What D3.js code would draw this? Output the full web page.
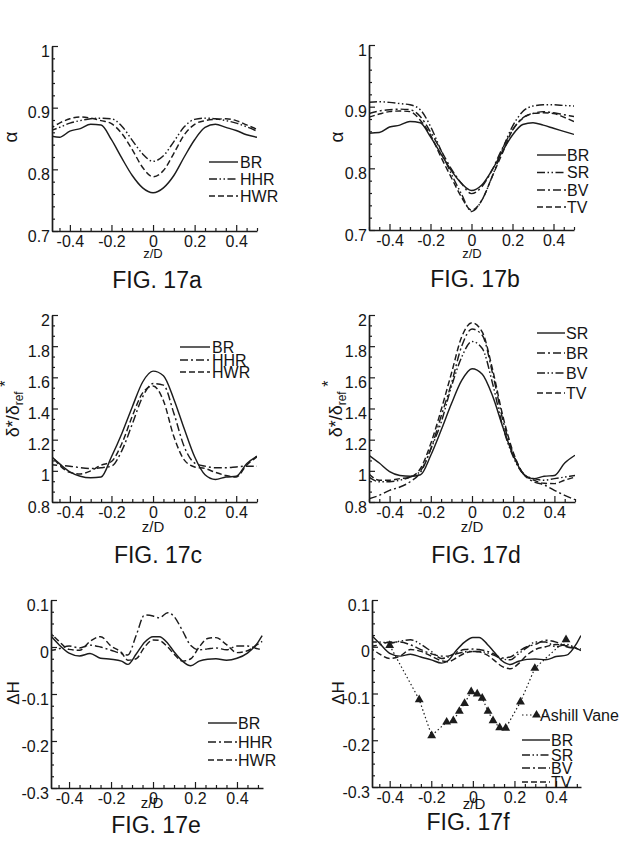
<!DOCTYPE html>
<html><head><meta charset="utf-8">
<script src="https://cdn.jsdelivr.net/npm/d3@7/dist/d3.min.js"></script>
<style>
body{margin:0;background:#fff}
svg{display:block}
text{font-family:"Liberation Sans",Arial,Helvetica,sans-serif;fill:#151515}
</style>
</head><body>
<svg id="chart" width="621" height="854"></svg>
<script>
// ---------- DATA ----------
const zGrid = [-0.5,-0.45,-0.4,-0.35,-0.3,-0.25,-0.2,-0.15,-0.1,-0.05,0,0.05,0.1,0.15,0.2,0.25,0.3,0.35,0.4,0.45,0.5];
const zGridEF = [-0.5,-0.45,-0.4,-0.35,-0.3,-0.25,-0.2,-0.15,-0.12,-0.08,-0.04,0,0.03,0.07,0.1,0.14,0.18,0.22,0.26,0.3,0.35,0.4,0.45,0.5,0.52];
const xTickLabels = [-0.4,-0.2,0,0.2,0.4];
const alphaTicks = [0.7,0.8,0.9,1];
const deltaTicks = [0.8,1,1.2,1.4,1.6,1.8,2];
const dHTicks = [-0.3,-0.2,-0.1,0,0.1];

// FIG 17a  (alpha)
const aBR  = [0.855,0.852,0.862,0.866,0.873,0.872,0.848,0.818,0.790,0.770,0.762,0.770,0.790,0.820,0.848,0.868,0.873,0.868,0.863,0.856,0.852];
const aHHR = [0.862,0.868,0.875,0.879,0.882,0.883,0.882,0.870,0.847,0.825,0.813,0.822,0.845,0.869,0.881,0.883,0.882,0.879,0.875,0.869,0.862];
const aHWR = [0.865,0.875,0.882,0.885,0.883,0.879,0.874,0.858,0.832,0.803,0.788,0.798,0.826,0.856,0.873,0.879,0.881,0.882,0.879,0.872,0.865];
// FIG 17b  (alpha)
const bBR = [0.857,0.858,0.867,0.870,0.876,0.874,0.851,0.824,0.797,0.776,0.764,0.773,0.797,0.827,0.854,0.871,0.874,0.870,0.865,0.860,0.855];
const bSR = [0.907,0.908,0.907,0.905,0.903,0.895,0.868,0.830,0.792,0.759,0.730,0.748,0.786,0.830,0.868,0.892,0.901,0.903,0.903,0.902,0.901];
const bBV = [0.889,0.893,0.895,0.896,0.895,0.884,0.859,0.830,0.800,0.776,0.759,0.770,0.797,0.832,0.862,0.882,0.889,0.892,0.890,0.887,0.884];
const bTV = [0.883,0.888,0.892,0.893,0.892,0.878,0.854,0.819,0.786,0.754,0.732,0.748,0.786,0.824,0.862,0.881,0.889,0.890,0.889,0.883,0.876];
// FIG 17c  (delta*/delta_ref*)
const cBR  = [1.107,1.046,0.993,0.965,0.955,0.960,1.090,1.240,1.410,1.570,1.640,1.610,1.460,1.270,1.090,0.975,0.945,0.960,0.965,1.046,1.094];
const cHHR = [1.040,1.035,1.030,1.020,1.015,1.020,1.030,1.130,1.300,1.475,1.560,1.550,1.370,1.155,1.050,1.030,1.020,1.020,1.025,1.030,1.030];
const cHWR = [1.120,1.036,0.990,0.980,1.000,1.036,1.060,1.175,1.350,1.500,1.545,1.450,1.220,1.070,1.025,1.015,0.990,0.970,0.960,1.036,1.090];
// FIG 17d
const dSR = [1.100,1.050,0.995,0.970,0.965,0.975,1.100,1.260,1.430,1.580,1.655,1.620,1.480,1.280,1.100,0.980,0.950,0.965,0.970,1.050,1.100];
const dBR = [0.820,0.843,0.875,0.896,0.930,0.990,1.140,1.350,1.560,1.800,1.910,1.870,1.625,1.325,1.110,0.980,0.930,0.910,0.875,0.843,0.815];
const dBV = [0.960,0.930,0.930,0.940,0.960,1.000,1.140,1.310,1.540,1.730,1.830,1.785,1.560,1.280,1.090,0.980,0.950,0.940,0.950,0.960,0.970];
const dTV = [0.980,0.940,0.940,0.950,0.960,1.015,1.175,1.390,1.625,1.860,1.950,1.890,1.650,1.350,1.120,0.980,0.940,0.920,0.918,0.940,0.960];
// FIG 17e  (delta H)
const eBR  = [0.030,0.006,-0.013,-0.019,-0.014,-0.024,-0.026,-0.030,-0.037,-0.015,0.010,0.022,0.022,0.008,-0.010,-0.030,-0.040,-0.030,-0.026,-0.025,-0.028,-0.024,-0.013,0.010,0.024];
const eHHR = [-0.008,-0.004,0.002,-0.002,0.004,0.000,-0.007,-0.014,-0.017,0.025,0.068,0.066,0.062,0.073,0.065,0.035,0.003,-0.006,-0.004,-0.002,-0.006,0.002,0.002,-0.004,-0.006];
const eHWR = [0.035,0.013,-0.005,-0.007,0.012,0.022,0.002,-0.012,-0.028,-0.025,0.000,0.015,0.014,0.000,-0.015,-0.030,-0.025,0.000,0.018,0.020,0.005,-0.012,-0.008,0.006,0.012];
// FIG 17f
const fBR = [0.030,0.008,-0.014,-0.020,-0.016,-0.022,-0.028,-0.035,-0.030,-0.008,0.010,0.020,0.020,0.005,-0.010,-0.030,-0.038,-0.031,-0.027,-0.026,-0.028,-0.021,-0.018,0.008,0.024];
const fSR = [0.010,0.010,0.008,0.012,0.015,0.005,-0.010,-0.025,-0.022,-0.015,-0.011,-0.010,-0.010,-0.013,-0.018,-0.026,-0.028,-0.015,-0.002,0.010,0.010,0.000,0.005,-0.004,-0.008];
const fBV = [0.000,0.004,0.010,0.010,0.004,-0.006,-0.015,-0.020,-0.020,-0.012,-0.006,-0.005,-0.006,-0.010,-0.015,-0.024,-0.022,-0.010,0.000,0.005,0.014,0.010,0.000,-0.004,-0.006];
const fTV = [0.000,-0.015,-0.025,-0.020,-0.006,-0.010,-0.020,-0.030,-0.032,-0.024,-0.014,-0.010,-0.011,-0.018,-0.028,-0.042,-0.047,-0.036,-0.018,-0.006,0.000,0.005,0.002,-0.003,-0.005];
const ashillZ = [-0.40,-0.258,-0.198,-0.126,-0.094,-0.065,-0.040,-0.008,0.021,0.045,0.073,0.097,0.129,0.158,0.229,0.298,0.448];
const ashillV = [0.003,-0.113,-0.190,-0.161,-0.158,-0.138,-0.121,-0.096,-0.101,-0.110,-0.138,-0.158,-0.173,-0.174,-0.118,-0.046,0.015];

// ---------- STYLES / LAYOUT ----------
const DASH = {solid:null, dash:"6,3", dashdot:"8,3,2,3", dashdotdot:"8,2.5,1.5,2.5,1.5,2.5", dotted:"1.5,2.5"};
const INK = "#1c1c1c";

const panels = [
 {id:"a", l:52, r:257, t:46, b:231, xDom:[-0.486,0.5], yDom:[0.7,1], yTicks:alphaTicks, yMinor:0.02,
  ylab:"alpha", ylx:17, yly:137, xl:[153,258,13], title:["FIG. 17a",157,288],
  series:[["BR",zGrid,aBR,"solid"],["HHR",zGrid,aHHR,"dashdotdot"],["HWR",zGrid,aHWR,"dash"]],
  leg:{x1:209,x2:238,tx:240,ys:[162,179,196]}},
 {id:"b", l:369, r:574, t:45, b:230, xDom:[-0.5,0.5], yDom:[0.7,1], yTicks:alphaTicks, yMinor:0.02,
  ylab:"alpha", ylx:343, yly:137, xl:[472,258,13], title:["FIG. 17b",475,287],
  series:[["BR",zGrid,bBR,"solid"],["SR",zGrid,bSR,"dashdotdot"],["BV",zGrid,bBV,"dashdot"],["TV",zGrid,bTV,"dash"]],
  leg:{x1:537,x2:566,tx:567,ys:[155,172.5,190,207]}},
 {id:"c", l:52, r:257, t:315, b:502, xDom:[-0.486,0.5], yDom:[0.8,2], yTicks:deltaTicks, yMinor:0.2/3,
  ylab:"delta", ylx:19, yly:409, xl:[153,532,15], title:["FIG. 17c",158,563],
  series:[["BR",zGrid,cBR,"solid"],["HHR",zGrid,cHHR,"dashdot"],["HWR",zGrid,cHWR,"dash"]],
  leg:{x1:180,x2:210,tx:212,ys:[347,360,372]}},
 {id:"d", l:369, r:575, t:315, b:502, xDom:[-0.5,0.5], yDom:[0.8,2], yTicks:deltaTicks, yMinor:0.2/3,
  ylab:"delta", ylx:342, yly:409, xl:[472,532,15], title:["FIG. 17d",476,563],
  series:[["SR",zGrid,dSR,"solid"],["BR",zGrid,dBR,"dashdot"],["BV",zGrid,dBV,"dashdotdot"],["TV",zGrid,dTV,"dash"]],
  leg:{x1:537,x2:565,tx:566,ys:[333,353,373,393]}},
 {id:"e", l:51, r:263, t:600, b:788, xDom:[-0.486,0.524], yDom:[-0.3,0.1], yTicks:dHTicks, yMinor:0.025,
  ylab:"dH", ylx:19, yly:693, xl:[152,808,15], title:["FIG. 17e",156,833],
  series:[["BR",zGridEF,eBR,"solid"],["HHR",zGridEF,eHHR,"dashdot"],["HWR",zGridEF,eHWR,"dash"]],
  leg:{x1:208,x2:237,tx:238,ys:[723,742,760]}},
 {id:"f", l:372, r:581, t:600, b:787, xDom:[-0.485,0.52], yDom:[-0.3,0.1], yTicks:dHTicks, yMinor:0.025,
  ylab:"dH", ylx:344, yly:693, xl:[474,809,15], title:["FIG. 17f",468,830],
  series:[["BR",zGridEF,fBR,"solid"],["SR",zGridEF,fSR,"dashdotdot"],["BV",zGridEF,fBV,"dashdot"],["TV",zGridEF,fTV,"dash"]],
  marked:["Ashill Vane",ashillZ,ashillV,"dotted"],
  leg:{x1:522,x2:550,tx:551,ys:[740,755,768,782], markY:715, markTx:540}}
];

const svg = d3.select("#chart");
const defs = svg.append("defs");
const fmt = v => String(+v.toFixed(3));

function ylabel(g, p){
  const t = g.append("text").attr("transform",`translate(${p.ylx},${p.yly}) rotate(-90)`)
    .attr("text-anchor","middle");
  if(p.ylab==="alpha"){ t.attr("font-size",19).text("α"); }
  else if(p.ylab==="dH"){ t.attr("font-size",17).text("ΔH"); }
  else {
    t.attr("font-size",18);
    t.append("tspan").text("δ*/δ");
    t.append("tspan").attr("font-size",12).attr("dy",4).text("ref");
    t.append("tspan").attr("font-size",16).attr("dy",-12).text(" *");
  }
}

panels.forEach(p=>{
  const g = svg.append("g");
  const x = d3.scaleLinear().domain(p.xDom).range([p.l,p.r]);
  const y = d3.scaleLinear().domain(p.yDom).range([p.b,p.t]);

  defs.append("clipPath").attr("id","clip"+p.id).append("rect")
    .attr("x",p.l).attr("y",p.t-3).attr("width",p.r-p.l).attr("height",p.b-p.t+3);

  // x axis: major + minor ticks, inward
  const xMinorVals = d3.range(-10,11).map(i=>i*0.05).filter(v=>v>=p.xDom[0]-1e-9&&v<=p.xDom[1]+1e-9&&!xTickLabels.some(t=>Math.abs(t-v)<1e-9));
  const gxm = g.append("g").attr("transform",`translate(0,${p.b})`)
    .call(d3.axisBottom(x).tickValues(xMinorVals).tickSize(-3).tickSizeOuter(0).tickFormat(""));
  gxm.select(".domain").remove();
  const gx = g.append("g").attr("transform",`translate(0,${p.b})`)
    .call(d3.axisBottom(x).tickValues(xTickLabels).tickSize(-6).tickSizeOuter(0).tickPadding(5).tickFormat(fmt));
  gx.selectAll("text").attr("font-size",16).attr("fill",INK);

  // y axis
  const n = Math.round((p.yDom[1]-p.yDom[0])/p.yMinor);
  const yMinorVals = d3.range(0,n+1).map(i=>p.yDom[0]+i*p.yMinor).filter(v=>!p.yTicks.some(t=>Math.abs(t-v)<1e-6));
  const gym = g.append("g").attr("transform",`translate(${p.l},0)`)
    .call(d3.axisLeft(y).tickValues(yMinorVals).tickSize(-3).tickSizeOuter(0).tickFormat(""));
  gym.select(".domain").remove();
  const gy = g.append("g").attr("transform",`translate(${p.l},0)`)
    .call(d3.axisLeft(y).tickValues(p.yTicks).tickSize(-6).tickSizeOuter(0).tickPadding(2).tickFormat(fmt));
  gy.selectAll("text").attr("font-size",16).attr("fill",INK).attr("y",5);

  g.selectAll(".domain").attr("stroke",INK).attr("stroke-width",1.7);
  g.selectAll(".tick line").attr("stroke",INK).attr("stroke-width",1.2);
  g.selectAll(".tick text").attr("font-family",null);

  // axis labels and title
  g.append("text").attr("x",p.xl[0]).attr("y",p.xl[1]).attr("text-anchor","middle")
    .attr("font-size",p.xl[2]).text("z/D");
  ylabel(g,p);
  g.append("text").attr("x",p.title[1]).attr("y",p.title[2]).attr("text-anchor","middle")
    .attr("font-size",23).text(p.title[0]);

  // curves
  const line = d3.line().x(d=>x(d[0])).y(d=>y(d[1])).curve(d3.curveMonotoneX);
  const plot = g.append("g").attr("clip-path",`url(#clip${p.id})`);
  p.series.forEach(s=>{
    plot.append("path").datum(s[1].map((z,i)=>[z,s[2][i]]))
      .attr("d",line).attr("fill","none").attr("stroke",INK).attr("stroke-width",1.45)
      .attr("stroke-dasharray",DASH[s[3]]);
  });
  if(p.marked){
    const m = p.marked;
    const pts = m[1].map((z,i)=>[z,m[2][i]]);
    plot.append("path").datum(pts).attr("d",d3.line().x(d=>x(d[0])).y(d=>y(d[1])))
      .attr("fill","none").attr("stroke",INK).attr("stroke-width",1.2).attr("stroke-dasharray",DASH[m[3]]);
    plot.selectAll(".tri").data(pts).enter().append("path")
      .attr("d",d3.symbol(d3.symbolTriangle,34)).attr("transform",d=>`translate(${x(d[0])},${y(d[1])})`)
      .attr("fill",INK);
  }

  // legend
  const L = p.leg;
  if(p.marked){
    g.append("line").attr("x1",L.x1).attr("x2",L.tx-2).attr("y1",L.markY).attr("y2",L.markY)
      .attr("stroke",INK).attr("stroke-width",1.2).attr("stroke-dasharray",DASH.dotted);
    g.append("path").attr("d",d3.symbol(d3.symbolTriangle,34)).attr("transform",`translate(${(L.x1+L.tx)/2},${L.markY})`).attr("fill",INK);
    g.append("text").attr("x",L.markTx).attr("y",L.markY).attr("dy","0.35em").attr("font-size",16).text(p.marked[0]);
  }
  p.series.forEach((s,i)=>{
    g.append("line").attr("x1",L.x1).attr("x2",L.x2).attr("y1",L.ys[i]).attr("y2",L.ys[i])
      .attr("stroke",INK).attr("stroke-width",1.4).attr("stroke-dasharray",DASH[s[3]]);
    g.append("text").attr("x",L.tx).attr("y",L.ys[i]).attr("dy","0.35em").attr("font-size",16).text(s[0]);
  });
});
</script>
</body></html>
